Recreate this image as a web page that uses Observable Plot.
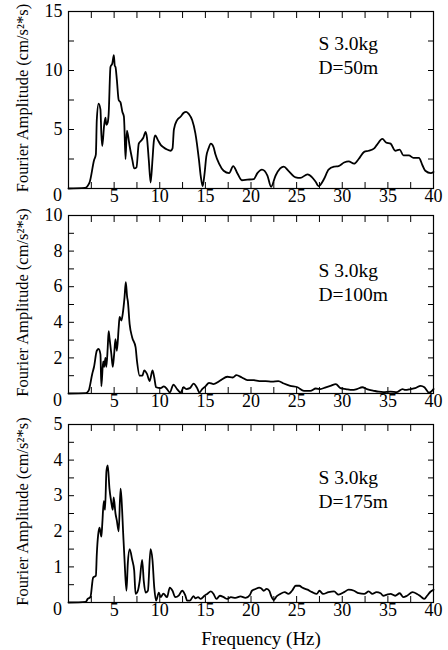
<!DOCTYPE html>
<html>
<head>
<meta charset="utf-8">
<script src="https://cdn.jsdelivr.net/npm/d3@7"></script>
<script src="https://cdn.jsdelivr.net/npm/@observablehq/plot@0.6"></script>
<style>
  html, body { margin: 0; padding: 0; background: white; }
  #chart { position: relative; width: 448px; height: 650px; background: white; }
  #chart > div { position: absolute; left: 0; }
</style>
</head>
<body>
<div id="chart"></div>
<script>
// ---- data ----
const freq1 = [0,1.8,2.3,2.8,3.0,3.1,3.3,3.5,3.6,3.7,3.9,4.05,4.15,4.3,4.4,4.6,4.8,4.97,5.07,5.15,5.3,5.5,5.7,5.9,6.07,6.12,6.25,6.4,6.5,6.7,7.0,7.2,7.45,7.7,7.9,8.2,8.45,8.6,8.8,9.0,9.2,9.35,9.5,9.8,10.1,10.4,10.8,11.2,11.4,11.55,11.9,12.3,12.6,12.9,13.2,13.55,13.9,14.3,14.5,14.7,14.9,15.1,15.35,15.6,15.9,16.1,16.5,17.0,17.6,18.05,18.5,19.0,19.6,20.3,20.7,21.2,21.8,22.2,22.7,23.2,23.6,24.1,24.9,25.4,26.2,26.7,27.1,27.4,28.0,28.5,29.1,29.6,30.2,30.7,31.3,31.8,32.4,32.9,33.5,33.8,34.4,34.8,35.3,35.8,36.3,36.7,37.3,37.8,38.4,38.8,39.1,39.7,40];
const amp1 = [0,0.05,0.5,2.4,2.9,5.8,7.2,6.7,4.6,3.6,5.3,6.0,5.4,5.6,6.3,10.3,10.6,11.3,10.4,10.3,9.2,7.5,7.3,6.5,6.1,5.4,2.5,4.9,4.6,3.6,2.4,1.7,1.8,3.8,4.0,4.3,4.8,4.3,2.4,0.5,2.4,4.0,4.5,4.1,3.7,3.5,3.3,3.2,3.4,5.0,5.8,6.1,6.4,6.5,6.3,5.8,4.7,2.4,1.0,0.2,1.2,2.7,3.4,3.8,3.5,2.9,2.1,1.5,1.3,1.9,1.3,0.7,0.75,0.8,1.3,1.6,1.1,0.15,1.1,1.7,1.85,1.5,0.95,0.9,1.2,0.95,0.55,0.2,0.8,1.6,1.85,1.9,2.2,2.3,2.1,2.5,3.1,3.2,3.4,3.7,4.2,3.9,3.8,3.2,3.3,2.8,2.8,2.6,2.6,1.95,1.5,1.3,1.4];

const freq2 = [0,1.9,2.2,2.6,2.8,3.1,3.3,3.5,3.6,3.8,3.9,4.05,4.15,4.3,4.4,4.5,4.7,4.85,5.0,5.15,5.3,5.5,5.6,5.8,5.95,6.14,6.28,6.43,6.5,6.7,6.98,7.35,7.5,7.8,8.1,8.3,8.6,8.9,9.2,9.4,9.6,10.1,10.45,10.8,11.1,11.5,11.9,12.3,12.6,12.9,13.3,13.7,14.1,14.35,14.65,15.0,15.4,15.9,16.7,17.4,18.0,18.4,19.0,19.6,20.3,20.9,21.6,22.3,23.0,23.6,24.3,25.1,25.8,26.5,27.1,27.6,28.2,28.7,29.3,29.8,30.4,31.1,31.6,32.2,32.7,33.5,34.0,34.5,35.3,36.0,36.6,36.9,37.5,38.0,38.6,39.0,39.5,40];
const amp2 = [0,0.02,0.15,1.1,1.5,2.4,2.5,2.2,0.4,1.8,1.5,2.0,1.5,2.6,3.5,3.1,2.2,1.5,2.2,3.05,2.4,3.7,4.3,4.1,4.5,5.4,6.25,5.4,5.2,3.9,3.15,2.6,1.85,1.0,1.0,1.3,1.1,0.7,1.3,0.9,0.35,0.3,0.4,0.25,0.05,0.5,0.25,0.05,0.35,0.25,0.3,0.55,0.3,0.05,0.25,0.4,0.6,0.53,0.75,0.94,0.9,1.03,0.9,0.75,0.75,0.7,0.7,0.67,0.7,0.56,0.43,0.35,0.15,0.15,0.28,0.25,0.35,0.43,0.53,0.3,0.25,0.2,0.25,0.35,0.25,0.15,0.1,0.08,0.1,0.08,0.25,0.2,0.25,0.3,0.43,0.35,0.05,0.25];

const freq3 = [0,1.9,2.1,2.4,2.7,3.0,3.1,3.25,3.4,3.6,3.7,3.87,4.0,4.16,4.3,4.49,4.67,4.85,4.95,5.15,5.3,5.5,5.7,5.8,6.0,6.14,6.35,6.5,6.7,6.98,7.2,7.35,7.6,7.8,8.07,8.25,8.45,8.7,8.99,9.2,9.4,9.6,9.9,10.1,10.4,10.8,11.1,11.4,11.7,12.1,12.45,12.8,13.0,13.3,13.7,13.9,14.2,14.5,14.9,15.2,15.6,15.9,16.2,16.6,17.0,17.4,17.8,18.3,18.85,19.4,19.9,20.1,20.5,20.9,21.1,21.4,21.7,22.0,22.2,22.5,22.8,23.2,23.7,24.1,24.5,24.9,25.3,25.6,26.2,26.7,27.2,27.5,27.9,28.5,29.1,29.6,30.2,30.7,31.3,31.8,32.4,32.9,33.3,33.75,34.2,34.5,34.9,35.3,35.8,36.3,36.7,37.1,37.7,38.2,38.6,39.0,39.3,39.7,40];
const amp3 = [0,0.02,0.1,0.15,0.7,0.75,1.35,1.9,2.1,1.85,2.2,2.85,2.6,3.7,3.85,3.2,2.85,2.6,2.95,2.5,2.3,2.0,3.2,2.95,1.9,1.2,0.33,1.1,1.5,1.2,0.9,0.24,0.33,0.6,1.2,0.6,0.28,0.33,1.5,1.2,0.42,0.05,0.28,0.15,0.25,0.15,0.42,0.33,0.15,0.2,0.33,0.2,0.05,0.05,0.18,0.12,0.15,0.1,0.19,0.24,0.31,0.24,0.1,0.19,0.15,0.1,0.15,0.13,0.17,0.13,0.22,0.33,0.38,0.42,0.4,0.33,0.38,0.33,0.19,0.07,0.17,0.24,0.29,0.24,0.33,0.47,0.47,0.42,0.36,0.29,0.24,0.33,0.24,0.29,0.31,0.22,0.29,0.36,0.33,0.26,0.24,0.31,0.24,0.29,0.26,0.19,0.22,0.24,0.19,0.26,0.15,0.19,0.29,0.24,0.17,0.1,0.19,0.31,0.36];

const xTickLabels = [5, 10, 15, 20, 25, 30, 35, 40];
const xMinorTicks = [2.5, 5, 7.5, 10, 12.5, 15, 17.5, 20, 22.5, 25, 27.5, 30, 32.5, 35, 37.5];
const yLabels1 = [5, 10, 15];
const yTicks1 = [2.5, 5, 7.5, 10, 12.5];
const yLabels2 = [2, 4, 6, 8, 10];
const yTicks2 = [1, 2, 3, 4, 5, 6, 7, 8, 9];
const yLabels3 = [1, 2, 3, 4, 5];
const yTicks3 = [0.5, 1, 1.5, 2, 2.5, 3, 3.5, 4, 4.5];
const noteLines1 = ["S 3.0kg", "D=50m"];
const noteLines2 = ["S 3.0kg", "D=100m"];
const noteLines3 = ["S 3.0kg", "D=175m"];
const yTitle = "Fourier Amplitude (cm/s\u00B2*s)";
const xTitle = "Frequency (Hz)";

const FONT = '"Liberation Serif", "DejaVu Serif", "Times New Roman", serif';

function panel(o) {
  const data = o.freq.map((f, i) => ({f, a: o.amp[i]}));
  const notes = o.notes.map((t, i) => ({t, y: o.noteY[i]}));
  const marks = [
    Plot.axisX(xMinorTicks, {anchor: "bottom", tickSize: 6, dy: -6, tickFormat: () => "", label: null}),
    Plot.axisX(xMinorTicks, {anchor: "top", tickSize: 6, dy: 6, tickFormat: () => "", label: null}),
    Plot.axisX(xTickLabels, {anchor: "bottom", tickSize: 0, tickPadding: 1, label: null}),
    Plot.text([0], {x: d => d, frameAnchor: "bottom", lineAnchor: "top", textAnchor: "middle", dy: 0, dx: -11, text: d => String(d)}),
    Plot.axisY(o.yTicks, {anchor: "left", tickSize: 6, dx: 6, tickFormat: () => "", label: null}),
    Plot.axisY(o.yTicks, {anchor: "right", tickSize: 6, dx: -6, tickFormat: () => "", label: null}),
    Plot.axisY(o.yLabels, {anchor: "left", tickSize: 0, tickPadding: 6, label: null}),
    Plot.text([yTitle], {frameAnchor: "left", textAnchor: "middle", lineAnchor: "middle", rotate: -90, dx: -46, dy: -2, text: d => d, fontSize: 16.5}),
    Plot.frame({stroke: "black", strokeWidth: 1.2}),
    Plot.line(data, {x: "f", y: "a", stroke: "black", strokeWidth: 1.8, curve: "monotone-x", strokeLinejoin: "round"}),
    Plot.text(notes, {x: () => o.noteX, y: "y", text: "t", textAnchor: "start", fontSize: 19.5})
  ];
  if (o.xTitle) {
    marks.push(Plot.text([o.xTitle], {frameAnchor: "bottom", textAnchor: "middle", lineAnchor: "middle", dx: 10, dy: 36, text: d => d, fontSize: 19}));
  }
  return Plot.plot({
    width: 448,
    height: o.height,
    marginLeft: 68,
    marginRight: 15,
    marginTop: o.mt,
    marginBottom: o.mb,
    style: {fontFamily: FONT, fontSize: "18px", background: "transparent", color: "black", overflow: "visible"},
    x: {domain: [0, 40]},
    y: {domain: [0, o.yMax]},
    marks
  });
}

const chart = document.getElementById("chart");
const specs = [
  {top: 0, height: 210, mt: 11, mb: 22, freq: freq1, amp: amp1, yMax: 15, yLabels: yLabels1, yTicks: yTicks1, notes: noteLines1, noteX: 27.4, noteY: [12.3, 10.25]},
  {top: 200, height: 215, mt: 15, mb: 22, freq: freq2, amp: amp2, yMax: 10, yLabels: yLabels2, yTicks: yTicks2, notes: noteLines2, noteX: 27.4, noteY: [6.9, 5.55]},
  {top: 410, height: 240, mt: 14, mb: 48, freq: freq3, amp: amp3, yMax: 5, yLabels: yLabels3, yTicks: yTicks3, notes: noteLines3, noteX: 27.4, noteY: [3.51, 2.84], xTitle}
];
for (const s of specs) {
  const wrap = document.createElement("div");
  wrap.style.top = s.top + "px";
  wrap.appendChild(panel(s));
  chart.appendChild(wrap);
}
</script>
</body>
</html>
